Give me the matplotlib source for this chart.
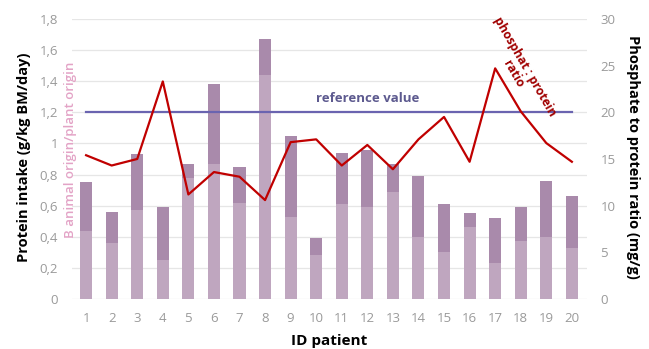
import matplotlib.pyplot as plt
import numpy as np

# data
patients = [str(i) for i in range(1, 21)]
plant = [0.44, 0.36, 0.57, 0.25, 0.78, 0.87, 0.62, 1.44, 0.53, 0.28,
         0.61, 0.59, 0.69, 0.40, 0.30, 0.46, 0.23, 0.37, 0.40, 0.33]
total = [0.75, 0.56, 0.93, 0.59, 0.87, 1.38, 0.85, 1.67, 1.05, 0.39,
         0.94, 0.96, 0.87, 0.79, 0.61, 0.55, 0.52, 0.59, 0.76, 0.66]
ratio = [15.4, 14.3, 15.0, 23.3, 11.2, 13.6, 13.1, 10.6, 16.8, 17.1,
         14.3, 16.5, 13.9, 17.1, 19.5, 14.7, 24.7, 20.1, 16.7, 14.7]
reference = 1.2

plt.rcParams['font.family'] = ['Open Sans', 'DejaVu Sans']

x = np.arange(1, len(patients) + 1)
animal = np.array(total) - np.array(plant)

fig = plt.figure(figsize=(6.49, 3.49), dpi=100)
ax = fig.add_axes([0.111, 0.143, 0.793, 0.803])

ax.bar(x, plant, width=0.47, color='#bfa6bf', zorder=2)
ax.bar(x, animal, bottom=plant, width=0.47, color='#a98aab', zorder=2)
ax.plot([x[0], x[-1]], [reference, reference], color='#6a64b0', lw=1.6, zorder=3)
ax.text(12.0, 1.245, 'reference value', color='#5d5a8f', fontsize=9.5,
        fontweight='bold', ha='center', va='bottom')

ax.set_ylim(0, 1.8)
ax.set_xlim(0.45, 20.58)
ax.set_yticks(np.arange(0, 1.81, 0.2))
ax.set_yticklabels(['0', '0,2', '0,4', '0,6', '0,8', '1', '1,2', '1,4', '1,6', '1,8'])
ax.set_xticks(x)
ax.set_xticklabels(patients)
ax.grid(axis='y', color='#e6e6e6', lw=0.9, zorder=0)
ax.set_axisbelow(True)
for s in ax.spines.values():
    s.set_visible(False)
ax.tick_params(length=0, colors='#9a9a9a', labelsize=9.5)
ax.tick_params(axis='x', pad=9)
ax.tick_params(axis='y', pad=10)

ax2 = ax.twinx()
ax2.plot(x, ratio, color='#c00000', lw=1.6, zorder=4)
ax2.set_ylim(0, 30)
ax2.set_yticks(np.arange(0, 31, 5))
for s in ax2.spines.values():
    s.set_visible(False)
ax2.tick_params(length=0, colors='#9a9a9a', labelsize=9.5, pad=10)

ax2.text(17.95, 24.5, 'phosphat : protein\nratio', rotation=-60, color='#a00000',
         fontsize=8.8, fontweight='bold', ha='center', va='center',
         multialignment='center', rotation_mode='anchor', linespacing=1.0)

ax.set_xlabel('ID patient', fontsize=11, fontweight='bold', labelpad=7)
fig.text(0.037, 0.55, 'Protein intake (g/kg BM/day)', rotation=90, fontsize=10.5,
         fontweight='bold', ha='center', va='center')
fig.text(0.108, 0.57, 'B animal origin/plant origin', rotation=90, fontsize=9.5,
         fontweight='semibold', color='#e3a3c6', ha='center', va='center')
fig.text(0.975, 0.55, 'Phosphate to protein ratio (mg/g)', rotation=-90, fontsize=10.5,
         fontweight='bold', ha='center', va='center')

fig.savefig('out.png', dpi=100)
